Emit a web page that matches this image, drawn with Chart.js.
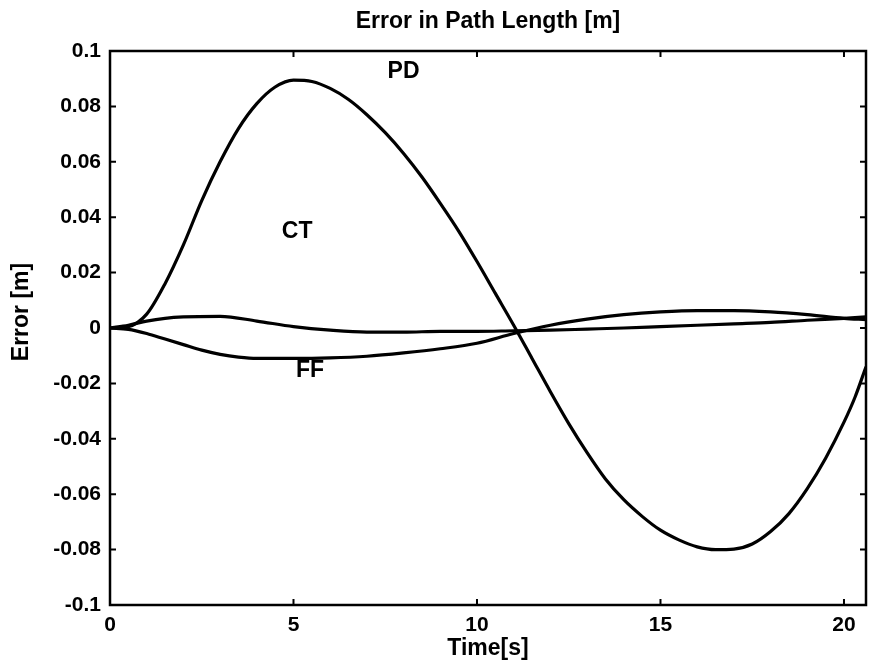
<!DOCTYPE html>
<html>
<head>
<meta charset="utf-8">
<script src="https://cdn.jsdelivr.net/npm/chart.js@4.4.1/dist/chart.umd.min.js"></script>
<style>
  html, body { margin: 0; padding: 0; background: #ffffff; }
  #wrap { width: 869px; height: 667px; }
</style>
</head>
<body>
<div id="wrap"><canvas id="c" width="869" height="667"></canvas></div>
<script>
// ---- data ----
const chartTitle = 'Error in Path Length [m]';
const xAxisTitle = 'Time[s]';
const yAxisTitle = 'Error [m]';

const xTicks = [0, 5, 10, 15, 20];
const yTicks = [-0.1, -0.08, -0.06, -0.04, -0.02, 0, 0.02, 0.04, 0.06, 0.08, 0.1];
const xRange = [0, 20.6];
const yRange = [-0.1, 0.1];

const pdTime  = [0, 0.5, 1, 1.5, 2, 2.5, 3, 3.5, 4, 4.5, 5, 5.5, 6, 6.5, 7, 7.5, 8, 8.5, 9, 9.5, 10,
                 10.5, 11, 11.5, 12, 12.5, 13, 13.5, 14, 14.5, 15, 15.5, 16, 16.5, 17, 17.5, 18, 18.5,
                 19, 19.5, 20, 20.3, 20.6];
const pdError = [0, 0.0005, 0.005, 0.016, 0.030, 0.046, 0.060, 0.072, 0.081, 0.087, 0.0895, 0.089,
                 0.0865, 0.0825, 0.077, 0.0705, 0.063, 0.0545, 0.045, 0.035, 0.024, 0.0125, 0.001,
                 -0.011, -0.023, -0.0345, -0.045, -0.0545, -0.062, -0.068, -0.073, -0.0765, -0.079,
                 -0.080, -0.0798, -0.078, -0.0735, -0.067, -0.058, -0.047, -0.034, -0.025, -0.014];

const ctTime  = [0, 0.5, 1, 1.5, 2, 3, 4, 5, 6, 7, 8, 9, 10, 11, 12, 13, 14, 15, 16, 17, 18, 19, 20, 20.6];
const ctError = [0, 0.001, 0.0025, 0.0035, 0.004, 0.0042, 0.0025, 0.0005, -0.0008, -0.0015, -0.0015,
                 -0.0012, -0.0012, -0.001, -0.0008, -0.0004, 0, 0.0005, 0.001, 0.0015, 0.002, 0.0028,
                 0.0035, 0.004];

const ffTime  = [0, 0.5, 1, 1.5, 2, 2.5, 3, 3.5, 4, 5, 6, 7, 8, 9, 10, 11, 12, 13, 14, 15, 16, 17, 18,
                 19, 20, 20.6];
const ffError = [0, -0.0005, -0.002, -0.004, -0.006, -0.008, -0.0095, -0.0105, -0.011, -0.011, -0.0108,
                 -0.0102, -0.009, -0.0075, -0.0055, -0.002, 0.001, 0.0032, 0.0048, 0.0058, 0.0063,
                 0.0063, 0.0058, 0.0048, 0.0035, 0.003];

const seriesNames = ['PD', 'CT', 'FF'];
const labelTime   = [8.0, 5.1, 5.45];
const labelValue  = [0.0924, 0.0347, -0.0155];

// ---- chart ----
const toPts = (xs, ys) => xs.map((x, i) => ({ x: x, y: ys[i] }));
const FONT = '"Liberation Sans", Arial, sans-serif';

const frameAndTicks = {
  id: 'frameAndTicks',
  afterDatasetsDraw(chart) {
    const { ctx, chartArea: a, scales: { x, y } } = chart;
    ctx.save();
    ctx.strokeStyle = '#000';
    ctx.lineWidth = 2.5;
    ctx.strokeRect(a.left, a.top, a.right - a.left, a.bottom - a.top);
    ctx.lineWidth = 2;
    const len = 6;
    xTicks.forEach(v => {
      const px = x.getPixelForValue(v);
      ctx.beginPath();
      ctx.moveTo(px, a.bottom); ctx.lineTo(px, a.bottom - len);
      ctx.moveTo(px, a.top); ctx.lineTo(px, a.top + len);
      ctx.stroke();
    });
    yTicks.forEach(v => {
      const py = y.getPixelForValue(v);
      ctx.beginPath();
      ctx.moveTo(a.left, py); ctx.lineTo(a.left + len, py);
      ctx.moveTo(a.right, py); ctx.lineTo(a.right - len, py);
      ctx.stroke();
    });
    ctx.fillStyle = '#000';
    ctx.textAlign = 'center';
    ctx.textBaseline = 'middle';
    // chart title, centred over the plot area
    ctx.font = 'bold 23px ' + FONT;
    ctx.fillText(chartTitle, (a.left + a.right) / 2, a.top - 29);
    // series labels
    ctx.font = 'bold 23px ' + FONT;
    seriesNames.forEach((n, i) => {
      ctx.fillText(n, x.getPixelForValue(labelTime[i]), y.getPixelForValue(labelValue[i]));
    });
    // y axis title
    ctx.save();
    ctx.translate(22, (a.top + a.bottom) / 2 - 16);
    ctx.rotate(-Math.PI / 2);
    ctx.font = 'bold 23px ' + FONT;
    ctx.fillText(yAxisTitle, 0, 0);
    ctx.restore();
    ctx.restore();
  }
};

const lineStyle = {
  borderColor: '#000',
  borderWidth: 3.2,
  pointRadius: 0,
  fill: false,
  cubicInterpolationMode: 'monotone'
};

new Chart(document.getElementById('c'), {
  type: 'line',
  data: {
    datasets: [
      Object.assign({ label: seriesNames[0], data: toPts(pdTime, pdError) }, lineStyle),
      Object.assign({ label: seriesNames[1], data: toPts(ctTime, ctError) }, lineStyle),
      Object.assign({ label: seriesNames[2], data: toPts(ffTime, ffError) }, lineStyle)
    ]
  },
  options: {
    responsive: false,
    animation: false,
    devicePixelRatio: 1,
    layout: { padding: { left: 0, right: 3, top: 51, bottom: 0 } },
    plugins: {
      legend: { display: false },
      tooltip: { enabled: false },
      title: { display: false }
    },
    scales: {
      x: {
        type: 'linear',
        min: xRange[0],
        max: xRange[1],
        afterBuildTicks: s => { s.ticks = xTicks.map(v => ({ value: v })); },
        afterFit: s => { s.height = 62; },
        grid: { display: false, drawTicks: false },
        border: { display: false },
        ticks: {
          color: '#000',
          padding: 8,
          maxRotation: 0,
          font: { family: FONT, size: 21, weight: 'bold', lineHeight: 1.2 },
          callback: v => String(v)
        },
        title: {
          display: true,
          text: xAxisTitle,
          color: '#000',
          font: { family: FONT, size: 23, weight: 'bold', lineHeight: 1.2 },
          padding: { top: 0, bottom: 5 }
        }
      },
      y: {
        type: 'linear',
        min: yRange[0],
        max: yRange[1],
        afterBuildTicks: s => { s.ticks = yTicks.map(v => ({ value: v })); },
        afterFit: s => { s.width = 110; },
        grid: { display: false, drawTicks: false },
        border: { display: false },
        ticks: {
          color: '#000',
          padding: 9,
          font: { family: FONT, size: 21, weight: 'bold' },
          callback: v => String(Number(v.toFixed(2)))
        },
        title: { display: false }
      }
    }
  },
  plugins: [frameAndTicks]
});
</script>
</body>
</html>
